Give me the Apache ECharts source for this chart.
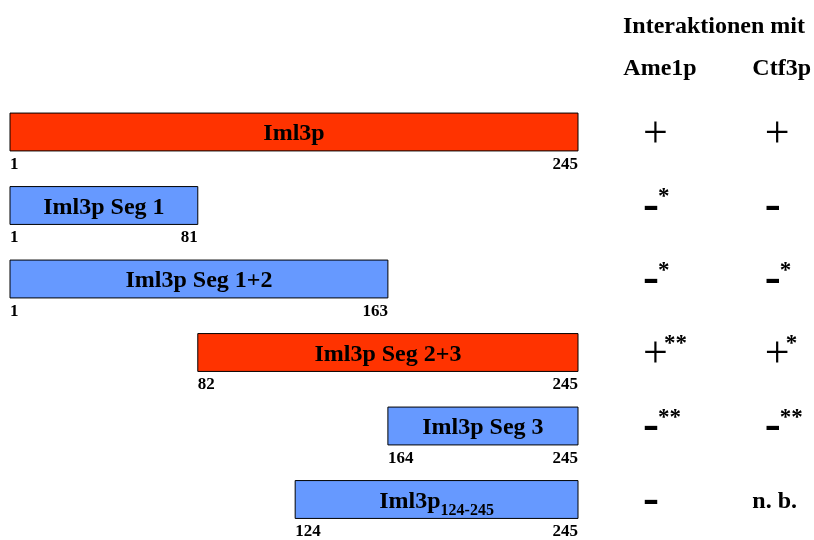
<!DOCTYPE html>
<html>
<head>
<meta charset="utf-8">
<title>Iml3p Segmente</title>
<script src="https://cdn.jsdelivr.net/npm/echarts@6/dist/echarts.min.js"></script>
<style>
  html, body { margin: 0; padding: 0; background: #fff; }
  #chart { width: 814px; height: 540px; }
</style>
</head>
<body>
<div id="chart"></div>
<script>
// Iml3p Konstrukte (Aminosäure-Positionen)
const segNames = ['Iml3p', 'Iml3p Seg 1', 'Iml3p Seg 1+2', 'Iml3p Seg 2+3', 'Iml3p Seg 3', 'Iml3p'];
const segSub = ['', '', '', '', '', '124-245'];
const segStart = [1, 1, 1, 82, 164, 124];
const segEnd = [245, 81, 163, 245, 245, 245];

// Interaktionen mit Ame1p / Ctf3p
const partners = ['Ame1p', 'Ctf3p'];
const ame1p = ['+', '-*', '-*', '+**', '-**', '-'];
const ctf3p = ['+', '-', '-*', '+*', '-**', 'n. b.'];

const rows = segNames.map((_, i) => i);
const cells = [];
rows.forEach(r => {
  cells.push([0, r, ame1p[r]]);
  cells.push([1, r, ctf3p[r]]);
});

const SERIF = '"Liberation Serif", "Times New Roman", serif';
const RED = '#FF3300';
const BLUE = '#6699FF';

const chart = echarts.init(document.getElementById('chart'));

const renderSegment = (params, api) => {
  const idx = params.dataIndex;
  const s = api.value(0);
  const e = api.value(1);
  const row = api.value(2);
  const p0 = api.coord([s - 1, row]);
  const p1 = api.coord([e, row]);
  const h = api.size([0, 1])[1] * 0.515;
  const top = p0[1] - h / 2;
  const bottom = p0[1] + h / 2;
  // rote Balken = Interaktion mit Ame1p
  const fill = ame1p[idx].charAt(0) === '+' ? RED : BLUE;
  const label = segSub[idx]
    ? '{m|' + segNames[idx] + '}{sub|' + segSub[idx] + '}'
    : '{m|' + segNames[idx] + '}';
  return {
    type: 'group',
    children: [
      {
        type: 'rect',
        shape: { x: p0[0], y: top, width: p1[0] - p0[0], height: h },
        style: { fill: fill, stroke: '#000', lineWidth: 1 }
      },
      {
        type: 'text',
        style: {
          x: (p0[0] + p1[0]) / 2,
          y: p0[1] + 2,
          text: label,
          align: 'center',
          verticalAlign: 'middle',
          rich: {
            m: { fontFamily: SERIF, fontWeight: 'bold', fontSize: 24, lineHeight: 24, fill: '#000' },
            sub: { fontFamily: SERIF, fontWeight: 'bold', fontSize: 16, lineHeight: 16, padding: [19, 0, 0, 0], fill: '#000' }
          }
        }
      },
      {
        type: 'text',
        style: {
          x: p0[0], y: bottom + 5, text: String(s),
          align: 'left', verticalAlign: 'top',
          fontFamily: SERIF, fontWeight: 'bold', fontSize: 17, fill: '#000'
        }
      },
      {
        type: 'text',
        style: {
          x: p1[0], y: bottom + 5, text: String(e),
          align: 'right', verticalAlign: 'top',
          fontFamily: SERIF, fontWeight: 'bold', fontSize: 17, fill: '#000'
        }
      }
    ]
  };
};

const renderMark = (params, api) => {
  const txt = cells[params.dataIndex][2];
  const pt = api.coord([api.value(0), api.value(1)]);
  const sign = txt.charAt(0);
  if (sign !== '+' && sign !== '-') {
    return {
      type: 'text',
      style: {
        x: pt[0] - 7, y: pt[1] + 2, text: txt,
        align: 'center', verticalAlign: 'middle',
        fontFamily: SERIF, fontWeight: 'bold', fontSize: 24, fill: '#000'
      }
    };
  }
  const x0 = pt[0] - 17;
  const isPlus = sign === '+';
  const children = [{
    type: 'text',
    style: {
      x: x0, y: pt[1] + (isPlus ? 3 : 1), text: sign,
      align: 'left', verticalAlign: 'middle',
      fontFamily: SERIF, fontWeight: isPlus ? 'normal' : 'bold',
      fontSize: isPlus ? 44 : 48, fill: '#000'
    }
  }];
  const stars = txt.slice(1);
  if (stars) {
    children.push({
      type: 'text',
      style: {
        x: x0 + (isPlus ? 21 : 15), y: pt[1] - 8, text: stars,
        align: 'left', verticalAlign: 'middle',
        fontFamily: SERIF, fontWeight: 'bold', fontSize: 23, fill: '#000'
      }
    });
  }
  return { type: 'group', children: children };
};

chart.setOption({
  backgroundColor: '#fff',
  animation: false,
  title: {
    text: 'Interaktionen mit',
    left: 623,
    top: 15,
    padding: 0,
    textStyle: { fontFamily: SERIF, fontWeight: 'bold', fontSize: 24, color: '#000' }
  },
  grid: [
    { left: 10, width: 568, top: 95.25, height: 441 },
    { left: 660, width: 123, top: 95.25, height: 441 }
  ],
  xAxis: [
    { gridIndex: 0, type: 'value', min: 0, max: 245, show: false },
    {
      gridIndex: 1, type: 'category', data: partners, position: 'top', boundaryGap: false,
      axisLine: { show: false }, axisTick: { show: false }, splitLine: { show: false },
      axisLabel: { margin: 14, fontFamily: SERIF, fontWeight: 'bold', fontSize: 24, color: '#000' }
    }
  ],
  yAxis: [
    { gridIndex: 0, type: 'category', data: rows, inverse: true, show: false },
    { gridIndex: 1, type: 'category', data: rows, inverse: true, show: false }
  ],
  series: [
    {
      type: 'custom',
      xAxisIndex: 0,
      yAxisIndex: 0,
      renderItem: renderSegment,
      encode: { x: [0, 1], y: 2 },
      data: rows.map(i => [segStart[i], segEnd[i], i]),
      clip: false
    },
    {
      type: 'custom',
      xAxisIndex: 1,
      yAxisIndex: 1,
      renderItem: renderMark,
      encode: { x: 0, y: 1 },
      data: cells.map(c => [c[0], c[1]]),
      clip: false
    }
  ]
});

window.addEventListener('resize', () => chart.resize());
</script>
</body>
</html>
